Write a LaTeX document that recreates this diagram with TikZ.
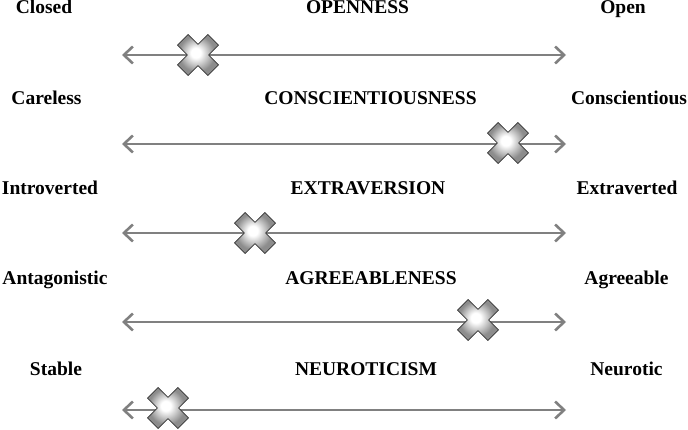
\documentclass[tikz,border=0pt]{standalone}
\usepackage{fontspec}
\setmainfont{Liberation Serif}
\usetikzlibrary{arrows.meta}
\pgfdeclareradialshading{xshade}{\pgfpoint{-3bp}{3bp}}{color(0bp)=(white); color(6bp)=(white); color(22bp)=(black!45); color(50bp)=(black!45)}
\tikzset{
  lbl/.style={font=\fontsize{19.5}{22}\selectfont\bfseries, anchor=base, inner sep=0pt},
  scale line/.style={draw=black!50, line width=2.6pt, {Straight Barb[length=9pt,width=17pt,line width=2.6pt]}-{Straight Barb[length=9pt,width=17pt,line width=2.6pt]}},
  xmark/.pic={
    \path[shading=xshade, draw=black!80, line width=0.8pt, rotate=45, line join=round]
      (7.5,21.5) -- (7.5,7.5) -- (21.5,7.5) -- (21.5,-7.5) -- (7.5,-7.5) -- (7.5,-21.5)
      -- (-7.5,-21.5) -- (-7.5,-7.5) -- (-21.5,-7.5) -- (-21.5,7.5) -- (-7.5,7.5) -- (-7.5,21.5) -- cycle;
  }
}
\begin{document}
\begin{tikzpicture}[x=1pt,y=-1pt]
\useasboundingbox (0,0) rectangle (688,430);
% row 1
\node[lbl] (L1) at (44,14) {Closed};
\node[lbl] (T1) at (357.5,14) {OPENNESS};
\node[lbl] (R1) at (623,14) {Open};
\coordinate (a1) at (122,55); \coordinate (b1) at (566,55);
\draw[scale line] (a1) -- (b1);
\pic at (198,55) {xmark};
% row 2
\node[lbl] (L2) at (46.5,105) {Careless};
\node[lbl] (T2) at (370.5,105) {CONSCIENTIOUSNESS};
\node[lbl] (R2) at (629,105) {Conscientious};
\coordinate (a2) at (122,144); \coordinate (b2) at (566,144);
\draw[scale line] (a2) -- (b2);
\pic at (508,143) {xmark};
% row 3
\node[lbl] (L3) at (50,195) {Introverted};
\node[lbl] (T3) at (368,195) {EXTRAVERSION};
\node[lbl] (R3) at (627,195) {Extraverted};
\coordinate (a3) at (122,233); \coordinate (b3) at (566,233);
\draw[scale line] (a3) -- (b3);
\pic at (255,233) {xmark};
% row 4
\node[lbl] (L4) at (55,285) {Antagonistic};
\node[lbl] (T4) at (371,285) {AGREEABLENESS};
\node[lbl] (R4) at (626.5,285) {Agreeable};
\coordinate (a4) at (122,322); \coordinate (b4) at (566,322);
\draw[scale line] (a4) -- (b4);
\pic at (478,320) {xmark};
% row 5
\node[lbl] (L5) at (56,375) {Stable};
\node[lbl] (T5) at (366,375) {NEUROTICISM};
\node[lbl] (R5) at (626.5,375) {Neurotic};
\coordinate (a5) at (122,410); \coordinate (b5) at (566,410);
\draw[scale line] (a5) -- (b5);
\pic at (168,408) {xmark};
\end{tikzpicture}
\end{document}
